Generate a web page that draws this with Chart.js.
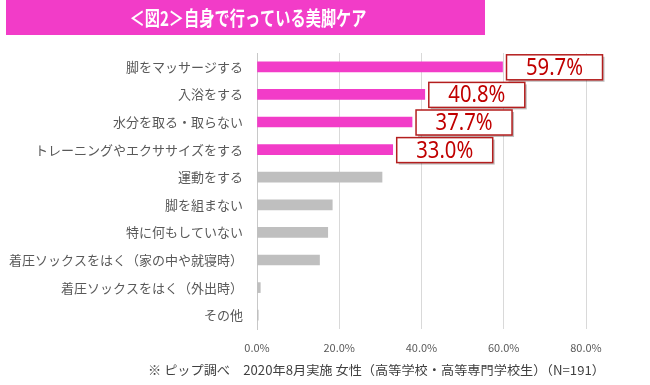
<!DOCTYPE html>
<html><head><meta charset="utf-8">
<script src="https://cdn.jsdelivr.net/npm/chart.js@4/dist/chart.umd.min.js"></script>
<style>html,body{margin:0;padding:0;background:#fff}#wrap{width:650px;height:385px}</style>
</head><body><div id="wrap"><canvas id="c" width="650" height="385"></canvas></div>
<script>
const titleText = '＜図2＞自身で行っている美脚ケア';
const categories = [
  '脚をマッサージする',
  '入浴をする',
  '水分を取る・取らない',
  'トレーニングやエクササイズをする',
  '運動をする',
  '脚を組まない',
  '特に何もしていない',
  '着圧ソックスをはく（家の中や就寝時）',
  '着圧ソックスをはく（外出時）',
  'その他'
];
const values = [59.7, 40.8, 37.7, 33.0, 30.4, 18.3, 17.2, 15.2, 0.8, 0.3];
const highlighted = [true, true, true, true, false, false, false, false, false, false];
const tickLabels = ['0.0%', '20.0%', '40.0%', '60.0%', '80.0%'];
const footnote = '※ ピップ調べ　2020年8月実施 女性（高等学校・高等専門学校生）（N=191）';

const PINK = '#F23CC8';
const GRAY = '#BFBFBF';
const JP = '"Noto Sans CJK JP", "Noto Sans", sans-serif';

const decor = {
  id: 'decor',
  beforeDraw(chart) {
    const ctx = chart.ctx;
    ctx.save();
    ctx.fillStyle = '#fff';
    ctx.fillRect(0, 0, chart.width, chart.height);
    ctx.fillStyle = PINK;
    ctx.fillRect(6, 0, 479, 35);
    ctx.font = 'bold 20px ' + JP;
    ctx.fillStyle = '#fff';
    ctx.textBaseline = 'middle';
    ctx.textAlign = 'center';
    const w = ctx.measureText(titleText).width;
    const s = 237 / w;
    ctx.translate(248, 18);
    ctx.scale(s, 1);
    ctx.fillText(titleText, 0, 0);
    ctx.restore();

    ctx.save();
    ctx.font = '12.5px ' + JP;
    ctx.fillStyle = '#404040';
    ctx.textBaseline = 'middle';
    ctx.textAlign = 'left';
    const fw = ctx.measureText(footnote).width;
    ctx.translate(148, 370);
    ctx.scale(457 / fw, 1);
    ctx.fillText(footnote, 0, 0);
    ctx.restore();
  },
  afterDatasetsDraw(chart) {
    const ctx = chart.ctx;
    const meta = chart.getDatasetMeta(0);
    meta.data.forEach((el, i) => {
      if (!highlighted[i]) return;
      const label = values[i].toFixed(1) + '%';
      const x = el.x + 4, y = el.y - 12, w = 96, h = 25;
      ctx.save();
      ctx.fillStyle = 'rgba(0,0,0,0.25)';
      ctx.fillRect(x + 2, y + 2, w, h);
      ctx.fillStyle = '#fff';
      ctx.fillRect(x, y, w, h);
      ctx.strokeStyle = '#B41E1E';
      ctx.lineWidth = 1.5;
      ctx.strokeRect(x, y, w, h);
      ctx.fillStyle = '#C00000';
      ctx.font = '23px "Noto Sans", sans-serif';
      ctx.textAlign = 'center';
      ctx.textBaseline = 'middle';
      ctx.translate(x + w / 2, y + h / 2 + 1);
      ctx.scale(0.88, 1);
      ctx.fillText(label, 0, 0);
      ctx.restore();
    });
  }
};

new Chart(document.getElementById('c'), {
  type: 'bar',
  data: {
    labels: categories,
    datasets: [{
      data: values,
      backgroundColor: highlighted.map(h => h ? PINK : GRAY),
      barThickness: 10,
      borderWidth: 0
    }]
  },
  options: {
    indexAxis: 'y',
    responsive: false,
    devicePixelRatio: 1,
    animation: false,
    layout: { padding: { left: 0, right: 64, top: 53, bottom: 24 } },
    plugins: { legend: { display: false }, tooltip: { enabled: false }, title: { display: false } },
    scales: {
      x: {
        min: 0, max: 80,
        ticks: {
          stepSize: 20,
          padding: 12,
          color: '#595959',
          font: { size: 11, family: JP },
          callback: (v, i) => tickLabels[i]
        },
        grid: { color: '#D9D9D9', drawTicks: false },
        border: { display: false },
        afterFit: (a) => { a.height = 32; }
      },
      y: {
        ticks: {
          autoSkip: false,
          padding: 14,
          color: '#595959',
          font: { size: 13, family: JP }
        },
        grid: { display: false, drawTicks: false },
        border: { display: true, color: '#C8C8C8', width: 1 },
        afterFit: (a) => { a.width = 257; }
      }
    }
  },
  plugins: [decor]
});
</script>
</body></html>
